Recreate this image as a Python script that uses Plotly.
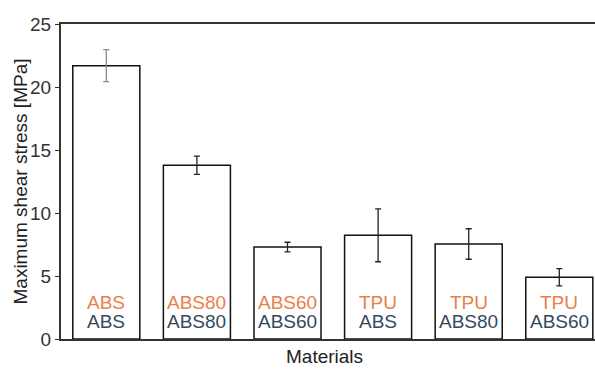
import plotly.graph_objects as go

categories = ["ABS/ABS", "ABS80/ABS80", "ABS60/ABS60", "TPU/ABS", "TPU/ABS80", "TPU/ABS60"]
top_labels = ["ABS", "ABS80", "ABS60", "TPU", "TPU", "TPU"]
bottom_labels = ["ABS", "ABS80", "ABS60", "ABS", "ABS80", "ABS60"]
values = [21.69, 13.79, 7.30, 8.23, 7.54, 4.90]
errors = [1.27, 0.72, 0.38, 2.10, 1.21, 0.69]
y_ticks = [0, 5, 10, 15, 20, 25]

ORANGE = "#E8804A"
NAVY = "#34495E"
FONT = "Liberation Sans, Arial, sans-serif"

xs = list(range(len(categories)))
err_colors = ["#8a8a8a"] + ["#222222"] * (len(categories) - 1)

fig = go.Figure()
for i in xs:
    fig.add_trace(go.Bar(
        x=[xs[i]], y=[values[i]], width=0.74, name=categories[i],
        marker=dict(color="white", line=dict(color="#111111", width=1.5)),
        error_y=dict(type="data", array=[errors[i]], visible=True, color=err_colors[i],
                     thickness=1.3, width=3),
        hoverinfo="y", showlegend=False,
    ))

annotations = []
for i, (t, b) in enumerate(zip(top_labels, bottom_labels)):
    annotations.append(dict(x=i, y=2.86, xref="x", yref="y", text=t, showarrow=False,
                            font=dict(family=FONT, size=19, color=ORANGE)))
    annotations.append(dict(x=i, y=1.42, xref="x", yref="y", text=b, showarrow=False,
                            font=dict(family=FONT, size=19, color=NAVY)))
annotations.append(dict(x=2.41, y=0, xref="x", yref="paper", yshift=-17, text="Materials",
                        showarrow=False, yanchor="middle",
                        font=dict(family=FONT, size=19, color="#222222")))
annotations.append(dict(x=0, y=0.5, xref="paper", yref="paper", xshift=-41, text="Maximum shear stress [MPa]",
                        showarrow=False, textangle=-90, xanchor="center",
                        font=dict(family=FONT, size=19, color="#222222")))

fig.update_layout(
    width=595, height=369,
    margin=dict(l=61, r=0, t=24, b=30),
    paper_bgcolor="white", plot_bgcolor="white",
    barmode="overlay", hovermode=False,
    font=dict(family=FONT, size=19, color="#333333"),
    annotations=annotations,
    xaxis=dict(range=[-0.5, 5.394], showticklabels=False, ticks="", showgrid=False, zeroline=False,
               showline=True, linecolor="#333333", linewidth=2, mirror=True),
    yaxis=dict(range=[0, 25], tickvals=y_ticks, showgrid=False, zeroline=False,
               showline=True, linecolor="#333333", linewidth=2, ticks="outside", ticklen=4,
               tickcolor="#333333", tickfont=dict(size=19, color="#333333")),
)
fig.write_html("out.html", config={"displayModeBar": False},
               post_script="document.body.style.margin='0';document.body.style.overflow='hidden';")
